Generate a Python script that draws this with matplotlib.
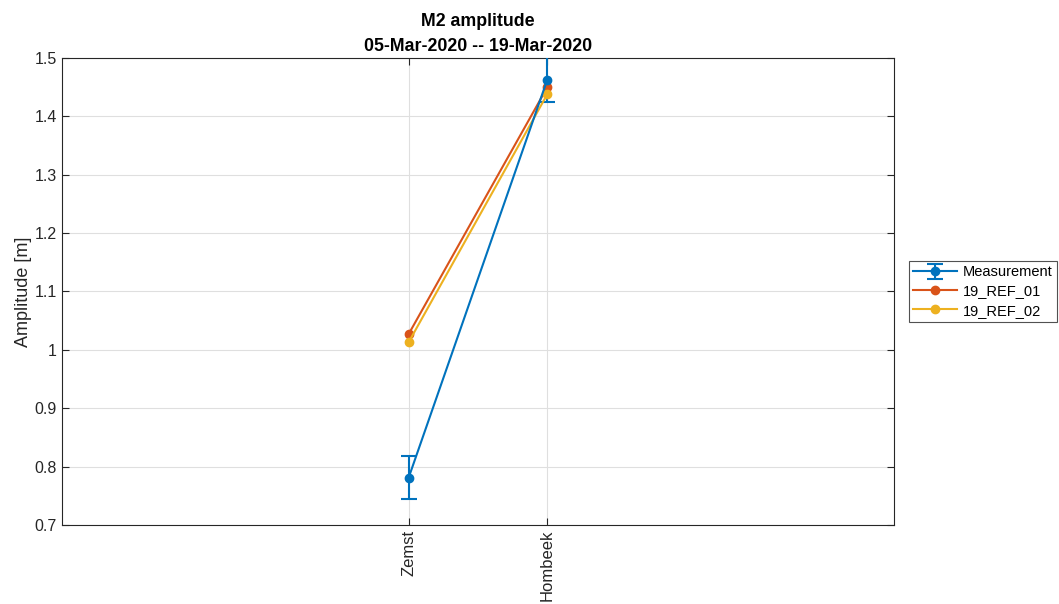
import matplotlib.pyplot as plt
import numpy as np

plt.rcParams['font.family'] = ['Liberation Sans', 'DejaVu Sans']

stations = ["Zemst", "Hombeek"]
meas = [0.781, 1.463]
meas_err = [0.037, 0.038]
ref01 = [1.027, 1.450]
ref02 = [1.013, 1.438]

x = np.arange(1, len(stations) + 1)

fig = plt.figure(figsize=(10.59, 6.04), dpi=100)
ax = fig.add_axes([0.0585, 0.1308, 0.7857, 0.7732])

h1 = ax.errorbar(x, meas, yerr=meas_err, color='#0072BD', marker='o', markersize=6,
                 linewidth=1.5, capsize=6, elinewidth=1.5, capthick=1.5, label='Measurement', zorder=3)
h2, = ax.plot(x, ref01, color='#D95319', marker='o', markersize=6, linewidth=1.5, label='19_REF_01', zorder=3)
h3, = ax.plot(x, ref02, color='#EDB120', marker='o', markersize=6, linewidth=1.5, label='19_REF_02', zorder=3)

ax.set_xlim(-1.5, 4.5)
ax.set_ylim(0.7, 1.5)
ax.set_xticks(x)
ax.set_xticklabels(stations, rotation=90, fontsize=12)
ax.set_yticks(np.arange(0.7, 1.51, 0.1))
ax.set_yticklabels(['0.7', '0.8', '0.9', '1', '1.1', '1.2', '1.3', '1.4', '1.5'], fontsize=11.5)
ax.tick_params(direction='in', top=True, right=True, colors='#262626', length=5)
ax.grid(True, color='#DFDFDF', linewidth=0.8)
ax.set_axisbelow(True)
for s in ax.spines.values():
    s.set_color('#262626')
    s.set_linewidth(0.8)

ax.set_ylabel('Amplitude [m]', fontsize=13, color='#262626', labelpad=2)
ax.set_title('M2 amplitude\n05-Mar-2020 -- 19-Mar-2020', fontsize=12.8, fontweight='bold',
             color='black', pad=5, linespacing=1.6)

leg = ax.legend([h1, h2, h3], ['Measurement', '19_REF_01', '19_REF_02'],
                loc='center left', bbox_to_anchor=(1.009, 0.5), fontsize=10.5,
                frameon=True, fancybox=False, edgecolor='#262626', handlelength=3.0,
                borderpad=0.3, labelspacing=0.35, handletextpad=0.4)
leg.get_frame().set_linewidth(0.8)

fig.savefig('out.png', dpi=100)
